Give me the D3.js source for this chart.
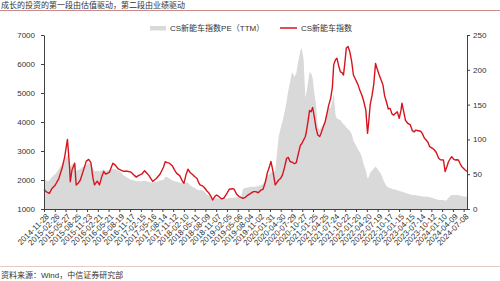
<!DOCTYPE html>
<html>
<head>
<meta charset="utf-8">
<script src="https://cdn.jsdelivr.net/npm/d3@7"></script>
<style>
body { margin: 0; background: #fff; }
</style>
</head>
<body>
<svg id="chart" width="500" height="281"></svg>
<script>
var dates = [
  "2014-11-28","2014-12-15","2015-01-01","2015-01-12","2015-02-01","2015-03-01","2015-04-01","2015-05-01","2015-05-20","2015-06-12",
  "2015-06-29","2015-07-06","2015-07-20","2015-08-12","2015-08-24","2015-09-12","2015-09-28","2015-10-29","2015-11-17","2015-12-07",
  "2015-12-25","2016-01-12","2016-01-25","2016-02-16","2016-02-26","2016-03-06","2016-03-28","2016-04-11","2016-04-27","2016-05-27",
  "2016-06-26","2016-07-15","2016-08-10","2016-08-27","2016-09-26","2016-10-26","2016-11-25","2016-12-25","2017-01-08","2017-01-25",
  "2017-02-22","2017-03-18","2017-04-03","2017-04-24","2017-05-13","2017-05-25","2017-06-24","2017-07-25","2017-08-24","2017-09-07",
  "2017-09-23","2017-10-12","2017-11-07","2017-11-23","2017-12-12","2018-01-06","2018-01-30","2018-02-11","2018-03-01","2018-03-16",
  "2018-04-05","2018-04-21","2018-05-10","2018-05-31","2018-06-15","2018-06-25","2018-07-15","2018-07-31","2018-08-22","2018-09-09",
  "2018-09-29","2018-10-09","2018-10-25","2018-11-09","2018-11-24","2018-12-13","2018-12-22","2019-01-12","2019-02-06","2019-02-24",
  "2019-03-22","2019-04-06","2019-04-26","2019-05-18","2019-06-06","2019-06-17","2019-07-05","2019-07-31","2019-08-26","2019-09-15",
  "2019-10-04","2019-10-25","2019-11-15","2019-12-04","2019-12-25","2020-01-09","2020-01-24","2020-02-08","2020-02-23","2020-03-15",
  "2020-04-13","2020-04-28","2020-05-14","2020-06-02","2020-06-18","2020-07-02","2020-07-18","2020-08-02","2020-08-23","2020-09-07",
  "2020-09-27","2020-10-12","2020-10-23","2020-11-07","2020-11-22","2020-12-02","2020-12-17","2020-12-27","2021-01-09","2021-01-22",
  "2021-02-06","2021-02-19","2021-03-06","2021-03-22","2021-04-06","2021-04-21","2021-05-06","2021-05-22","2021-06-06","2021-06-21",
  "2021-07-06","2021-07-17","2021-08-01","2021-08-13","2021-08-27","2021-09-11","2021-09-25","2021-10-07","2021-10-20","2021-10-30",
  "2021-11-14","2021-11-29","2021-12-14","2021-12-29","2022-01-18","2022-02-06","2022-02-20","2022-03-09","2022-03-23","2022-04-12",
  "2022-04-26","2022-05-06","2022-05-18","2022-06-02","2022-06-17","2022-07-02","2022-07-18","2022-08-02","2022-08-18","2022-09-02",
  "2022-09-16","2022-10-01","2022-10-17","2022-11-01","2022-11-16","2022-12-01","2022-12-16","2022-12-31","2023-01-16","2023-01-31",
  "2023-02-08","2023-02-23","2023-03-10","2023-03-30","2023-04-19","2023-05-06","2023-05-20","2023-06-05","2023-06-24","2023-07-14",
  "2023-07-29","2023-08-14","2023-08-29","2023-09-13","2023-09-28","2023-10-18","2023-11-03","2023-11-22","2023-12-12","2023-12-27",
  "2024-01-21","2024-02-04","2024-02-18","2024-03-03","2024-03-20","2024-03-31","2024-04-15","2024-04-28","2024-05-12","2024-05-25",
  "2024-06-10","2024-06-23","2024-07-08","2024-07-21","2024-08-05"
];

// CS新能车指数 (left axis)
var indexValues = [
  1680,1600,1560,1540,1700,1820,2050,2450,2800,3400,
  2500,1940,2345,2575,1830,1900,2000,2400,2650,2710,
  2600,2050,1830,1960,1900,1830,2150,2290,2200,2260,
  2575,2520,2380,2350,2300,2300,2270,2150,2100,2150,
  2200,2320,2250,2150,2030,1950,2050,2200,2450,2630,
  2600,2580,2480,2350,2230,2150,1950,1890,2200,2370,
  2250,2200,2120,2050,1900,1830,1800,1740,1620,1540,
  1400,1310,1420,1480,1450,1380,1350,1380,1550,1680,
  1700,1680,1520,1430,1390,1370,1390,1480,1550,1600,
  1600,1560,1650,1680,1950,2250,2420,2640,2350,1830,
  2000,2050,2170,2450,2750,2780,2630,2620,2560,2600,
  2950,3200,3250,3380,3500,3700,4100,4400,4350,4500,
  4150,3800,3550,3500,3650,3840,4000,4300,4590,4800,
  5200,5970,6150,6200,5950,5730,5700,5620,6100,6540,
  6600,6420,6100,5620,5450,5280,5100,4930,4750,4400,
  3610,4000,4590,4900,5300,6020,5800,5620,5450,5280,
  4900,4700,4450,4470,4280,4240,4300,4350,4130,4400,
  4650,4350,4050,3950,3900,3700,3660,3720,3700,3680,
  3600,3450,3380,3300,3150,3100,3050,2950,2750,2700,
  2690,2290,2450,2630,2750,2800,2720,2690,2700,2690,
  2550,2460,2400,2345,2290
];

// CS新能车指数PE（TTM） (right axis)
var peValues = [
  42,41,40,41,46,50,57,66,70,78,
  68,60,64,68,55,56,58,62,64,66,
  64,58,54,55,55,54,56,57,55,56,
  58,57,55,54,48,45,42,41,40,40,
  40,41,40,39,38,38,39,41,42,46,
  46,44,41,40,39,38,37,37,38,38,
  34,32,30,28,27,27,27,25,21,19,
  16,14,15,16,15,15,15,15,15,16,
  16,16,17,17,17.5,28,30,31,32,32,
  32,33,34,36,44,48,50,53,52,55,
  104,115,125,140,154,170,183,197,190,195,
  215,228,231,215,160,168,185,197,195,188,
  165,150,118,113,118,121,128,138,145,145,
  155,166,135,130,129,128,124,122,120,117,
  115,112,108,98,92,85,82,75,65,55,
  44,46,52,55,58,61,58,54,50,43,
  38,33,31,30,29,28,28,27,26,25,
  25,24,23,22,21,20,20,20,19,18.5,
  18,18,17.7,17.5,17,16,15,14,13,13,
  13,12,13,16,19,20,20,20,20,20,
  19,18.5,18,18,17.7
];

var tickLabels = [
  "2014-11-28","2015-02-26","2015-05-27","2015-08-25","2015-11-23","2016-02-21","2016-05-21","2016-08-19",
  "2016-11-17","2017-02-15","2017-05-16","2017-08-14","2017-11-12","2018-02-10","2018-05-11","2018-08-09",
  "2018-11-07","2019-02-05","2019-05-06","2019-08-04","2019-11-02","2020-01-31","2020-04-30","2020-07-29",
  "2020-10-27","2021-01-25","2021-04-25","2021-07-24","2021-10-22","2022-01-20","2022-04-20","2022-07-19",
  "2022-10-17","2023-01-15","2023-04-15","2023-07-14","2023-10-12","2024-01-10","2024-04-09","2024-07-08"
];
var leftTicks = [1000, 2000, 3000, 4000, 5000, 6000, 7000];
var rightTicks = [0, 50, 100, 150, 200, 250];

var titleText = "成长的投资的第一段由估值驱动，第二段由业绩驱动";
var sourceText = "资料来源：Wind，中信证券研究部";
var legendNames = ["CS新能车指数PE（TTM）", "CS新能车指数"];

var fontFamily = "'Liberation Sans', Arial, 'Noto Sans CJK SC', sans-serif";
var textColor = "#333";
var areaColor = "#d9d9d9";
var lineColor = "#d7141e";

var parseDate = d3.timeParse("%Y-%m-%d");
var svg = d3.select("#chart");

var plotLeft = 44, plotRight = 467, plotTop = 35, plotBottom = 209;

var points = dates.map(function (d, i) {
    return { date: parseDate(d), index: indexValues[i], pe: peValues[i] };
});

var x = d3.scaleTime()
    .domain([points[0].date, points[points.length - 1].date])
    .range([plotLeft, plotRight]);
var yLeft = d3.scaleLinear().domain([1000, 7000]).range([plotBottom, plotTop]);
var yRight = d3.scaleLinear().domain([0, 250]).range([plotBottom, plotTop]);

// title + rule
svg.append("text")
    .attr("x", 1)
    .attr("y", 8)
    .attr("font-family", fontFamily)
    .attr("font-size", 8)
    .attr("fill", textColor)
    .text(titleText);
svg.append("line")
    .attr("x1", 0).attr("x2", 500)
    .attr("y1", 10.5).attr("y2", 10.5)
    .attr("stroke", "#c98a8a")
    .attr("stroke-width", 1);

// PE area
svg.append("path")
    .datum(points)
    .attr("fill", areaColor)
    .attr("d", d3.area()
        .x(function (d) { return x(d.date); })
        .y0(yRight(0))
        .y1(function (d) { return yRight(d.pe); }));

// index line
svg.append("path")
    .datum(points)
    .attr("fill", "none")
    .attr("stroke", lineColor)
    .attr("stroke-width", 1.4)
    .attr("stroke-linejoin", "round")
    .attr("d", d3.line()
        .x(function (d) { return x(d.date); })
        .y(function (d) { return yLeft(d.index); }));

// axes
var gx = svg.append("g")
    .attr("transform", "translate(0," + plotBottom + ")")
    .call(d3.axisBottom(x)
        .tickValues(tickLabels.map(parseDate))
        .tickFormat(function (d, i) { return tickLabels[i]; })
        .tickSize(3)
        .tickSizeOuter(0));
gx.selectAll("text")
    .attr("text-anchor", "end")
    .attr("x", 0).attr("y", 0).attr("dy", "0.35em")
    .attr("transform", "translate(3,6) rotate(-45)");

var gl = svg.append("g")
    .attr("transform", "translate(" + plotLeft + ",0)")
    .call(d3.axisLeft(yLeft).tickValues(leftTicks).tickFormat(d3.format("d"))
        .tickSize(3).tickSizeOuter(0).tickPadding(6));

var gr = svg.append("g")
    .attr("transform", "translate(" + plotRight + ",0)")
    .call(d3.axisRight(yRight).tickValues(rightTicks).tickFormat(d3.format("d"))
        .tickSize(3).tickSizeOuter(0).tickPadding(3));

[gx, gl, gr].forEach(function (g) {
    g.attr("font-family", fontFamily).attr("font-size", 8);
    g.selectAll("path, line").attr("stroke", "#404040");
    g.selectAll("text").attr("fill", textColor);
});

// legend
var legend = svg.append("g").attr("font-family", fontFamily).attr("font-size", 8);
legend.append("rect")
    .attr("x", 150).attr("y", 26)
    .attr("width", 16).attr("height", 4.5)
    .attr("fill", areaColor);
legend.append("text")
    .attr("x", 170).attr("y", 31)
    .attr("fill", textColor)
    .text(legendNames[0]);
legend.append("line")
    .attr("x1", 280).attr("x2", 297)
    .attr("y1", 28).attr("y2", 28)
    .attr("stroke", lineColor)
    .attr("stroke-width", 1.5);
legend.append("text")
    .attr("x", 301).attr("y", 31)
    .attr("fill", textColor)
    .text(legendNames[1]);

// footer
svg.append("line")
    .attr("x1", 0).attr("x2", 500)
    .attr("y1", 266.5).attr("y2", 266.5)
    .attr("stroke", "#e3cbc4")
    .attr("stroke-width", 1);
svg.append("text")
    .attr("x", 1)
    .attr("y", 278)
    .attr("font-family", fontFamily)
    .attr("font-size", 8)
    .attr("fill", textColor)
    .text(sourceText);
</script>
</body>
</html>
